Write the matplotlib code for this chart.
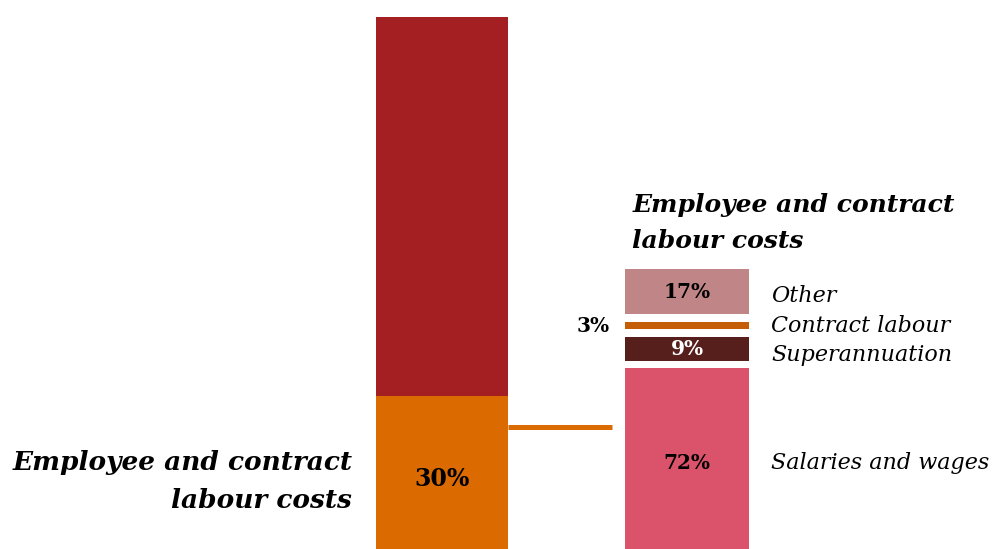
#!/usr/bin/env python3
"""Share of costs with a breakdown of employee and contract labour costs"""

import matplotlib.pyplot as plt

# left bar: total costs split
total_parts = ['Other costs', 'Employee and contract labour costs']
total_values = [70, 30]
total_colors = ['#A31F22', '#DB6A00']

# right bar: breakdown of employee and contract labour costs (bottom to top)
labour_parts = ['Salaries and wages', 'Superannuation', 'Contract labour', 'Other']
labour_values = [72, 9, 3, 17]
labour_colors = ['#DB536A', '#561F1C', '#C45F07', '#BF8587']
labour_text_colors = ['black', 'white', 'black', 'black']

GAP = 2.85          # white gap between the breakdown segments
FONT = 'DejaVu Serif'


def main():
    fig = plt.figure(figsize=(10, 5.49), dpi=100)

    # bars run a little past the bottom edge of the picture
    bottom = -0.0171
    ax1 = fig.add_axes([0.376, bottom, 0.132, 0.986])
    ax2 = fig.add_axes([0.625, bottom, 0.124, 0.529])
    for ax in (ax1, ax2):
        ax.axis('off')
        ax.set_xlim(-0.5, 0.5)

    # left bar
    ax1.set_ylim(0, 100)
    base = 0
    for val, col in zip(total_values[::-1], total_colors[::-1]):
        ax1.bar(0, val, bottom=base, width=1, color=col, linewidth=0)
        base += val
    ax1.text(0, total_values[1] * 0.49, f'{total_values[1]}%', ha='center',
             va='center', fontsize=17, fontweight='bold', family=FONT)
    ax1.text(-0.68, total_values[1] * 0.475, 'Employee and contract\nlabour costs',
             ha='right', va='center', fontsize=19, fontweight='bold',
             style='italic', family=FONT, linespacing=1.63)

    # right bar, stacked with gaps
    ax2.set_ylim(0, 110)
    base = 0
    for name, val, col, tcol in zip(labour_parts, labour_values, labour_colors,
                                    labour_text_colors):
        ax2.bar(0, val, bottom=base, width=1, color=col, linewidth=0)
        mid = base + val / 2
        if val >= 5:
            ax2.text(0, mid, f'{val}%', ha='center', va='center', fontsize=14.5,
                     fontweight='bold', color=tcol, family=FONT)
        else:
            ax2.text(-0.62, mid, f'{val}%', ha='right', va='center', fontsize=14.5,
                     fontweight='bold', color=tcol, family=FONT)
        label_y = mid
        if name == 'Other':
            label_y = mid - 1.5
        elif name == 'Superannuation':
            label_y = mid - 2.5
        elif name == 'Salaries and wages':
            label_y = mid + 0.3
        ax2.text(0.68, label_y, name, ha='left', va='center', fontsize=16,
                 style='italic', family=FONT)
        base += val + GAP
    ax2.text(-0.44, base + 14.6, 'Employee and contract\nlabour costs', ha='left',
             va='center', fontsize=18, fontweight='bold', style='italic',
             family=FONT, linespacing=1.6)

    # connector from the left bar to the breakdown
    fig.add_artist(plt.Line2D([0.508, 0.612], [1 - 427 / 549, 1 - 427 / 549],
                              color='#DB6A00', linewidth=3.6,
                              solid_capstyle='butt'))

    plt.savefig('out.png', dpi=100)


if __name__ == '__main__':
    main()
